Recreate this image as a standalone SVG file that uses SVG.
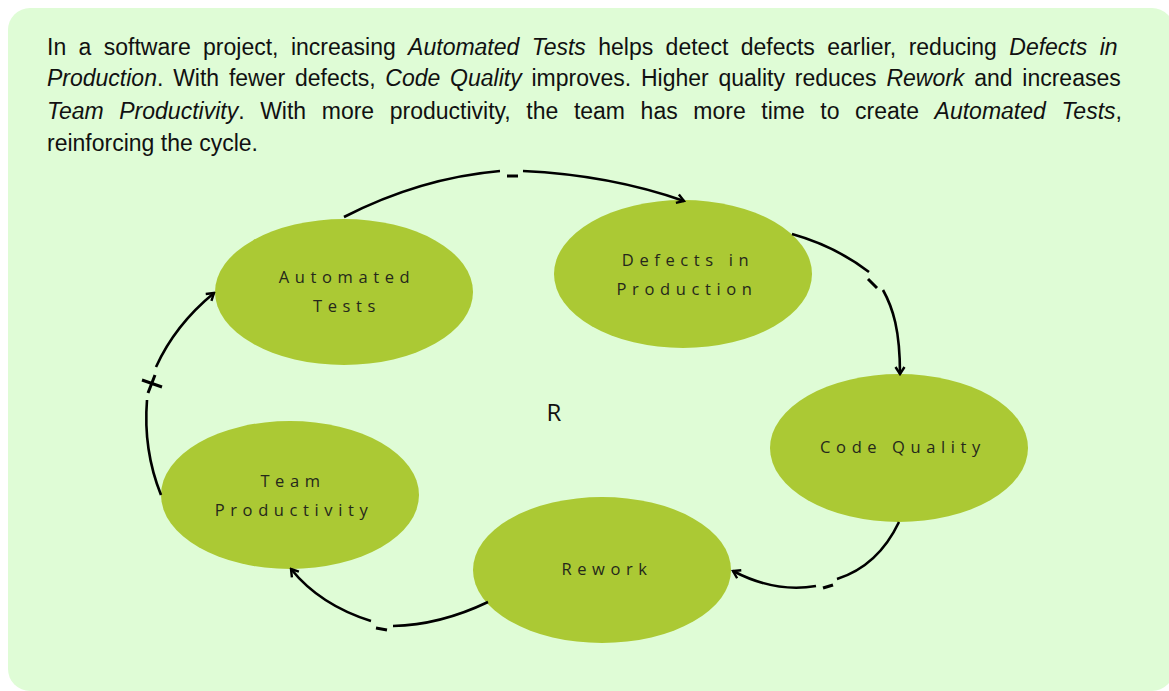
<svg xmlns="http://www.w3.org/2000/svg" width="1169" height="691" viewBox="0 0 1169 691">
  <style>
    .para { font-family: "Liberation Sans", Arial, sans-serif; font-size: 23px; fill: #111; }
    .para .em { font-style: italic; }
    .node ellipse { fill: #ABC934; }
    .node text { font-family: "Open Sans", "DejaVu Sans", sans-serif; font-size: 16.5px; font-weight: 500; letter-spacing: 5.6px; fill: #25281b; text-anchor: middle; }
    .link { fill: none; stroke: #000; stroke-width: 2.6; stroke-linecap: butt; }
    .sign { fill: none; stroke: #000; stroke-width: 3; }
    .loop { font-family: "Open Sans", "DejaVu Sans", sans-serif; font-size: 24px; fill: #111; text-anchor: middle; }
  </style>
  <defs>
    <marker id="arrow" viewBox="0 0 12 12" refX="10" refY="6" markerWidth="12" markerHeight="12" markerUnits="userSpaceOnUse" orient="auto">
      <path d="M3,1.5 L10,6 L3,10.5" fill="none" stroke="#000" stroke-width="2.4"/>
    </marker>
  </defs>

  <!-- panel -->
  <rect x="8" y="8" width="1166" height="683" rx="22" fill="#DFFCD6"/>

  <!-- description, justified by per-line word spacing -->
  <text class="para" x="47" y="55" style="word-spacing:6px">In a software project, increasing <tspan class="em">Automated Tests</tspan> helps detect defects earlier, reducing <tspan class="em">Defects in</tspan></text>
  <text class="para" x="47" y="86" style="word-spacing:3.4px"><tspan class="em">Production</tspan>. With fewer defects, <tspan class="em">Code Quality</tspan> improves. Higher quality reduces <tspan class="em">Rework</tspan> and increases</text>
  <text class="para" x="47" y="119" style="word-spacing:9.2px"><tspan class="em">Team Productivity</tspan>. With more productivity, the team has more time to create <tspan class="em">Automated Tests</tspan>,</text>
  <text class="para" x="47" y="151">reinforcing the cycle.</text>

  <!-- nodes -->
  <g id="automated-tests" class="node">
    <ellipse cx="344" cy="292" rx="129" ry="73"/>
    <text x="347" y="283">Automated</text>
    <text x="347" y="312">Tests</text>
  </g>
  <g id="defects-in-production" class="node">
    <ellipse cx="683" cy="274" rx="129" ry="74"/>
    <text x="688" y="266">Defects in</text>
    <text x="687" y="295">Production</text>
  </g>
  <g id="code-quality" class="node">
    <ellipse cx="899" cy="448" rx="129" ry="74"/>
    <text x="903" y="453">Code Quality</text>
  </g>
  <g id="rework" class="node">
    <ellipse cx="602" cy="570" rx="129" ry="73"/>
    <text x="607" y="575">Rework</text>
  </g>
  <g id="team-productivity" class="node">
    <ellipse cx="290" cy="495" rx="129" ry="74"/>
    <text x="293" y="487">Team</text>
    <text x="294" y="516">Productivity</text>
  </g>

  <!-- loop label -->
  <text class="loop" x="554" y="421">R</text>

  <!-- connectors -->
  <g id="connectors">
    <!-- Automated Tests to Defects in Production (-) -->
    <path class="link" d="M344,217 Q420,178 500,171"/>
    <path class="link" d="M523,171 Q610,175 684,201" marker-end="url(#arrow)"/>
    <path class="sign" d="M507,176 L518,176"/>

    <!-- Defects in Production to Code Quality (-) -->
    <path class="link" d="M792,234 Q835,246 869,272"/>
    <path class="link" d="M883,290 C893,308 900,330 900,374" marker-end="url(#arrow)"/>
    <path class="sign" d="M868,279 L877,288"/>

    <!-- Code Quality to Rework (-) -->
    <path class="link" d="M899,522 Q878,566 837,579"/>
    <path class="link" d="M816,586 Q775,593 733,571" marker-end="url(#arrow)"/>
    <path class="sign" d="M823,588 L833,585"/>

    <!-- Rework to Team Productivity (-) -->
    <path class="link" d="M488,602 Q440,625 393,626"/>
    <path class="link" d="M371,621 Q320,605 291,569" marker-end="url(#arrow)"/>
    <path class="sign" d="M376,628 L387,630"/>

    <!-- Team Productivity to Automated Tests (+) -->
    <path class="link" d="M161,495 Q143,450 147,400"/>
    <path class="link" d="M156,367 Q175,325 214,293" marker-end="url(#arrow)"/>
    <path class="sign" d="M142,380 L162,387 M155,375 L148,393"/>
  </g>
</svg>
